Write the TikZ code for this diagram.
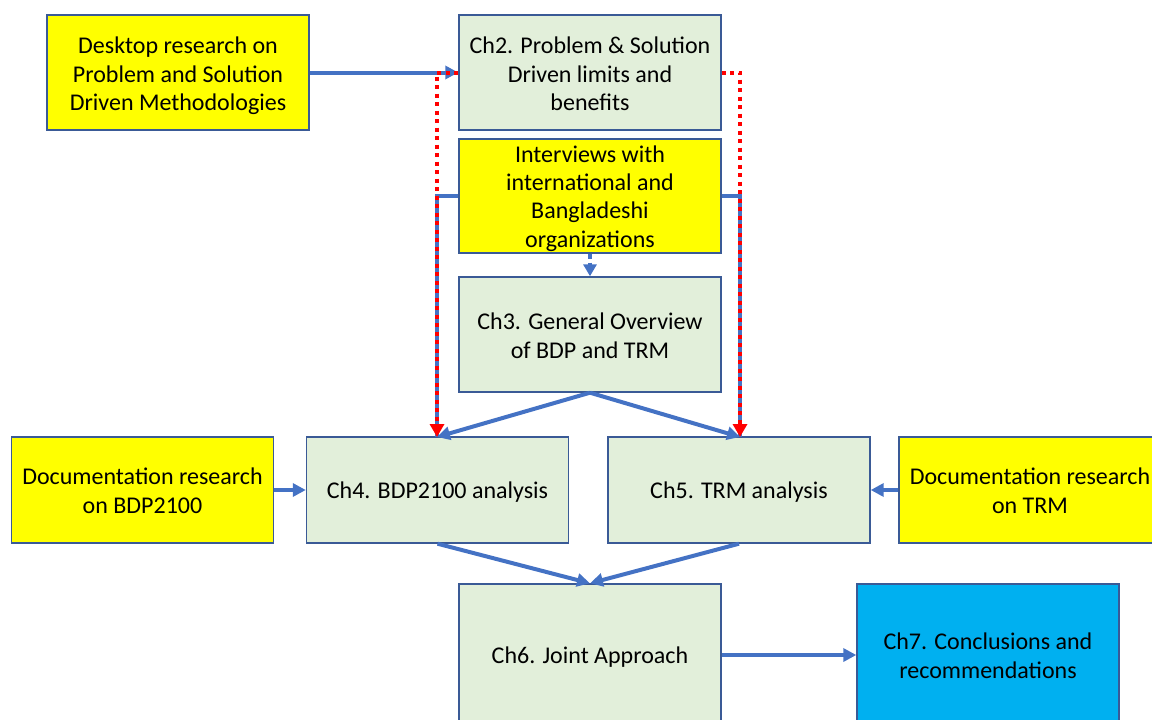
\documentclass[tikz,border=0pt]{standalone}
\usepackage{fontspec}
\setmainfont{Carlito}
\usetikzlibrary{arrows.meta}
\definecolor{boxline}{HTML}{3A5A96}
\definecolor{paleGreen}{HTML}{E2EFDA}
\definecolor{brightYellow}{HTML}{FFFF00}
\definecolor{skyBlue}{HTML}{00B0F0}
\definecolor{flowBlue}{HTML}{4472C4}
\definecolor{flowRed}{HTML}{FF0000}
\tikzset{
  toppad/.style={execute at begin node={\rule{0pt}{#1}}},
  basebox/.style={draw=boxline, line width=1.4pt, text width=258pt, align=flush center,
    font=\fontsize{24}{28.6}\selectfont, inner xsep=2pt, inner ysep=0pt,
    toppad=22.9pt, execute at end node={\rule[-5.5pt]{0pt}{5.5pt}}},
  chapter/.style={basebox, fill=paleGreen},
  source/.style={basebox, fill=brightYellow},
  finalbox/.style={basebox, fill=skyBlue},
  flow/.style={draw=flowBlue, line width=4pt, -{Triangle[length=13pt,width=13pt]}},
  link/.style={draw=flowBlue, line width=4pt},
  feed/.style={draw=flowRed, line width=4pt, dash pattern=on 4pt off 4.5pt,
    -{Triangle[length=13pt,width=14pt]}},
  hint/.style={draw=flowBlue, line width=3.2pt, dash pattern=on 5pt off 4pt,
    -{Triangle[length=12pt,width=13pt]}}
}
\begin{document}
\begin{tikzpicture}[x=1pt,y=-1pt]
\useasboundingbox (0,0) rectangle (1152,720);
\clip (0,0) rectangle (1152,720);

% research inputs
\node[source, minimum height=115pt, toppad=24.9pt] (desk) at (178,72.5)
  {Desktop research on\\Problem and Solution\\Driven Methodologies};
\node[source, minimum height=114pt, font=\fontsize{24}{28.3}\selectfont] (inter) at (590,196)
  {Interviews with\\international and\\Bangladeshi\\organizations};
\node[source, minimum height=106pt] (docb) at (142.5,490)
  {Documentation research\\on BDP2100};
\node[source, minimum height=106pt] (doct) at (1030,490)
  {Documentation research\\on TRM};

% chapters
\node[chapter, minimum height=115pt, toppad=24.9pt] (ch2) at (590,72.5)
  {Ch2. Problem \& Solution\\Driven limits and\\benefits};
\node[chapter, minimum height=115pt, toppad=24.9pt] (ch3) at (590,334.5)
  {Ch3. General Overview\\of BDP and TRM};
\node[chapter, minimum height=106pt] (ch4) at (437.5,490) {Ch4. BDP2100 analysis};
\node[chapter, minimum height=106pt] (ch5) at (739,490) {Ch5. TRM analysis};
\node[chapter, minimum height=142pt] (ch6) at (590,655) {Ch6. Joint Approach};
\node[finalbox, minimum height=142pt] (ch7) at (988,655)
  {Ch7. Conclusions and\\recommendations};

% helper points for the side routes
\coordinate (lcol) at (437,437);
\coordinate (rcol) at (740,437);

% interview findings feeding chapters 4 and 5
\draw[link] (inter.west) -| (lcol);
\draw[link] (inter.east) -| (rcol);

% main flow
\draw[flow] (desk.east) -- (ch2.west);
\draw[hint] (inter.south) -- (ch3.north);
\draw[flow] (ch3.south) -- (lcol);
\draw[flow] (ch3.south) -- (rcol);
\draw[flow] (docb.east) -- (ch4.west);
\draw[flow] (doct.west) -- (ch5.east);
\draw[flow] (ch4.south) -- (ch6.north);
\draw[flow] (ch5.south) -- (ch6.north);
\draw[flow] (ch6.east) -- (ch7.west);

% dotted feedback from chapter 2
\draw[feed] (ch2.west) -| (lcol);
\draw[feed] (ch2.east) -| (rcol);
\end{tikzpicture}
\end{document}
